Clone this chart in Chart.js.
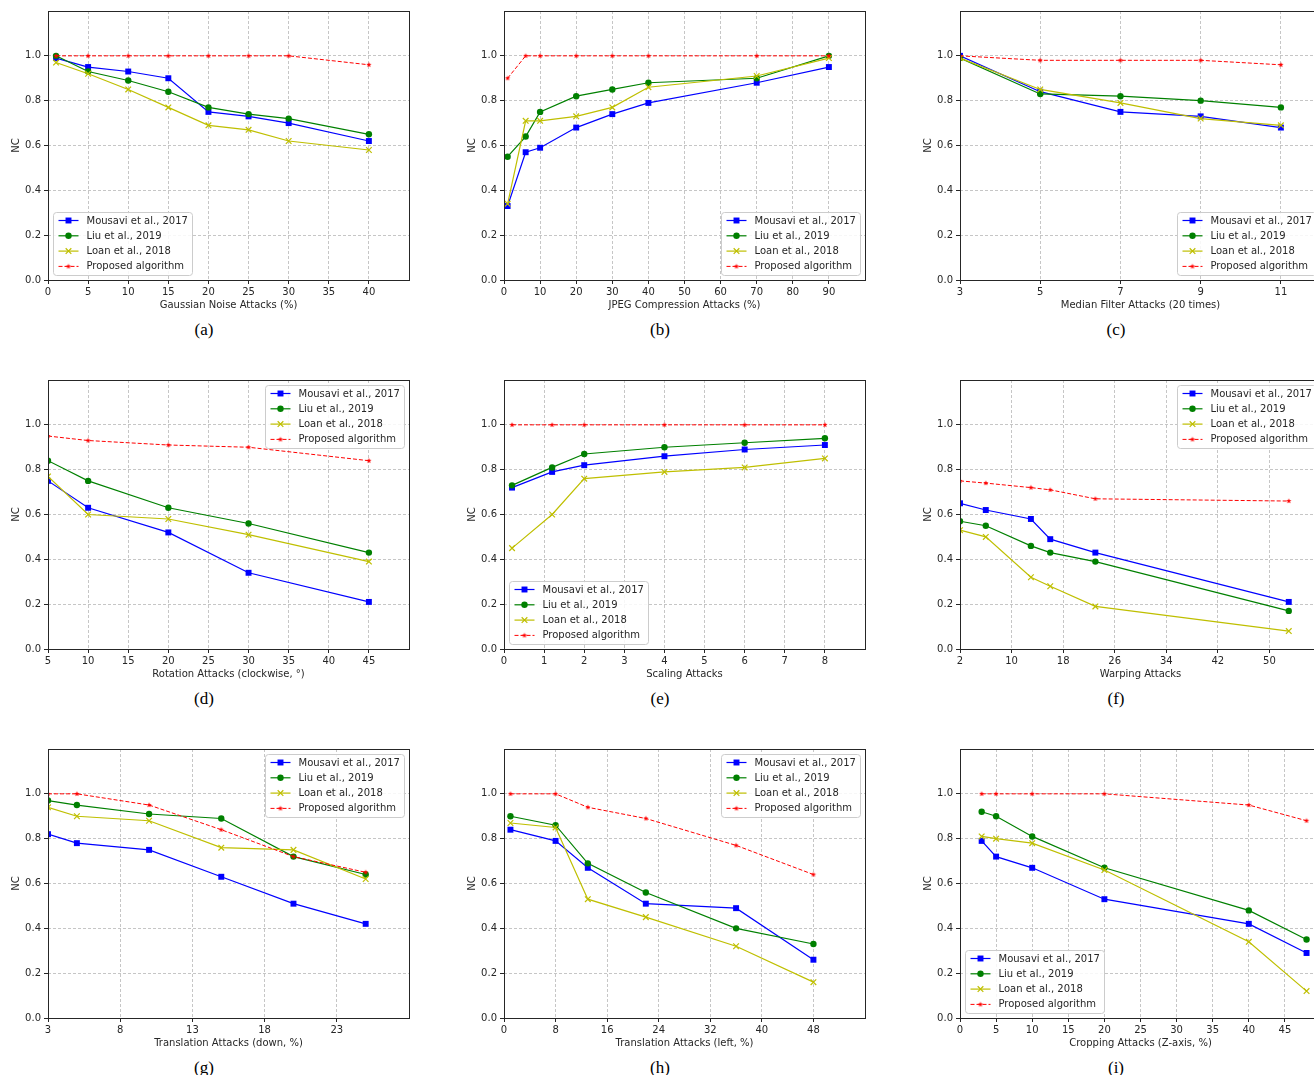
<!DOCTYPE html>
<html><head><meta charset="utf-8">
<script src="https://cdn.jsdelivr.net/npm/chart.js@4.4.0/dist/chart.umd.min.js"></script>
<style>
html,body{margin:0;padding:0;background:#fff;overflow:hidden;width:1314px;height:1075px;}
#wrap{position:relative;width:1314px;height:1075px;overflow:hidden;}
canvas.panel{position:absolute;}
.cap{position:absolute;font-family:'Liberation Serif','Times New Roman',serif;font-size:17px;line-height:20px;transform:translateX(-50%);color:#000;white-space:nowrap;}
</style></head><body><div id="wrap"></div>
<script>
// ---------- data ----------
const seriesNames = ['Mousavi et al., 2017', 'Liu et al., 2019', 'Loan et al., 2018', 'Proposed algorithm'];
const yTicks = [0, 0.2, 0.4, 0.6, 0.8, 1.0];
const yLabel = 'NC';

const aTitle = 'Gaussian Noise Attacks (%)';
const aTicks = [0, 5, 10, 15, 20, 25, 30, 35, 40];
const aX = [1, 5, 10, 15, 20, 25, 30, 40];
const aMousavi = [0.99, 0.95, 0.93, 0.90, 0.75, 0.73, 0.70, 0.62];
const aLiu = [1.00, 0.93, 0.89, 0.84, 0.77, 0.74, 0.72, 0.65];
const aLoan = [0.97, 0.92, 0.85, 0.77, 0.69, 0.67, 0.62, 0.58];
const aProposed = [1.00, 1.00, 1.00, 1.00, 1.00, 1.00, 1.00, 0.96];

const bTitle = 'JPEG Compression Attacks (%)';
const bTicks = [0, 10, 20, 30, 40, 50, 60, 70, 80, 90];
const bX = [1, 6, 10, 20, 30, 40, 70, 90];
const bMousavi = [0.33, 0.57, 0.59, 0.68, 0.74, 0.79, 0.88, 0.95];
const bLiu = [0.55, 0.64, 0.75, 0.82, 0.85, 0.88, 0.90, 1.00];
const bLoan = [0.34, 0.71, 0.71, 0.73, 0.77, 0.86, 0.91, 0.99];
const bProposed = [0.90, 1.00, 1.00, 1.00, 1.00, 1.00, 1.00, 1.00];

const cTitle = 'Median Filter Attacks (20 times)';
const cTicks = [3, 5, 7, 9, 11];
const cX = [3, 5, 7, 9, 11];
const cMousavi = [1.00, 0.84, 0.75, 0.73, 0.68];
const cLiu = [0.99, 0.83, 0.82, 0.80, 0.77];
const cLoan = [0.99, 0.85, 0.79, 0.72, 0.69];
const cProposed = [1.00, 0.98, 0.98, 0.98, 0.96];

const dTitle = 'Rotation Attacks (clockwise, °)';
const dTicks = [5, 10, 15, 20, 25, 30, 35, 40, 45];
const dX = [5, 10, 20, 30, 45];
const dMousavi = [0.75, 0.63, 0.52, 0.34, 0.21];
const dLiu = [0.84, 0.75, 0.63, 0.56, 0.43];
const dLoan = [0.77, 0.60, 0.58, 0.51, 0.39];
const dProposed = [0.95, 0.93, 0.91, 0.90, 0.84];

const eTitle = 'Scaling Attacks';
const eTicks = [0, 1, 2, 3, 4, 5, 6, 7, 8];
const eX = [0.2, 1.2, 2, 4, 6, 8];
const eMousavi = [0.72, 0.79, 0.82, 0.86, 0.89, 0.91];
const eLiu = [0.73, 0.81, 0.87, 0.90, 0.92, 0.94];
const eLoan = [0.45, 0.60, 0.76, 0.79, 0.81, 0.85];
const eProposed = [1.00, 1.00, 1.00, 1.00, 1.00, 1.00];

const fTitle = 'Warping Attacks';
const fTicks = [2, 10, 18, 26, 34, 42, 50];
const fX = [2, 6, 13, 16, 23, 53];
const fMousavi = [0.65, 0.62, 0.58, 0.49, 0.43, 0.21];
const fLiu = [0.57, 0.55, 0.46, 0.43, 0.39, 0.17];
const fLoan = [0.53, 0.50, 0.32, 0.28, 0.19, 0.08];
const fProposed = [0.75, 0.74, 0.72, 0.71, 0.67, 0.66];

const gTitle = 'Translation Attacks (down, %)';
const gTicks = [3, 8, 13, 18, 23];
const gX = [3, 5, 10, 15, 20, 25];
const gMousavi = [0.82, 0.78, 0.75, 0.63, 0.51, 0.42];
const gLiu = [0.97, 0.95, 0.91, 0.89, 0.72, 0.64];
const gLoan = [0.94, 0.90, 0.88, 0.76, 0.75, 0.62];
const gProposed = [1.00, 1.00, 0.95, 0.84, 0.72, 0.65];

const hTitle = 'Translation Attacks (left, %)';
const hTicks = [0, 8, 16, 24, 32, 40, 48];
const hX = [1, 8, 13, 22, 36, 48];
const hMousavi = [0.84, 0.79, 0.67, 0.51, 0.49, 0.26];
const hLiu = [0.90, 0.86, 0.69, 0.56, 0.40, 0.33];
const hLoan = [0.87, 0.85, 0.53, 0.45, 0.32, 0.16];
const hProposed = [1.00, 1.00, 0.94, 0.89, 0.77, 0.64];

const iTitle = 'Cropping Attacks (Z-axis, %)';
const iTicks = [0, 5, 10, 15, 20, 25, 30, 35, 40, 45];
const iX = [3, 5, 10, 20, 40, 48];
const iMousavi = [0.79, 0.72, 0.67, 0.53, 0.42, 0.29];
const iLiu = [0.92, 0.90, 0.81, 0.67, 0.48, 0.35];
const iLoan = [0.81, 0.80, 0.78, 0.66, 0.34, 0.12];
const iProposed = [1.00, 1.00, 1.00, 1.00, 0.95, 0.88];

// ---------- panels (layout only) ----------
const panels = [
  {id:'a', title:aTitle, ticks:aTicks, min:0, max:45, x:aX, ys:[aMousavi,aLiu,aLoan,aProposed], loc:'lower left'},
  {id:'b', title:bTitle, ticks:bTicks, min:0, max:100, x:bX, ys:[bMousavi,bLiu,bLoan,bProposed], loc:'lower right'},
  {id:'c', title:cTitle, ticks:cTicks, min:3, max:12, x:cX, ys:[cMousavi,cLiu,cLoan,cProposed], loc:'lower right'},
  {id:'d', title:dTitle, ticks:dTicks, min:5, max:50, x:dX, ys:[dMousavi,dLiu,dLoan,dProposed], loc:'upper right'},
  {id:'e', title:eTitle, ticks:eTicks, min:0, max:9, x:eX, ys:[eMousavi,eLiu,eLoan,eProposed], loc:'lower left'},
  {id:'f', title:fTitle, ticks:fTicks, min:2, max:58, x:fX, ys:[fMousavi,fLiu,fLoan,fProposed], loc:'upper right'},
  {id:'g', title:gTitle, ticks:gTicks, min:3, max:28, x:gX, ys:[gMousavi,gLiu,gLoan,gProposed], loc:'upper right'},
  {id:'h', title:hTitle, ticks:hTicks, min:0, max:56, x:hX, ys:[hMousavi,hLiu,hLoan,hProposed], loc:'upper right'},
  {id:'i', title:iTitle, ticks:iTicks, min:0, max:50, x:iX, ys:[iMousavi,iLiu,iLoan,iProposed], loc:'lower left'}
];

function makeStar(color, R, r) {
  const c = document.createElement('canvas');
  c.width = 8; c.height = 8;
  const g = c.getContext('2d');
  g.fillStyle = color; g.beginPath();
  for (let k = 0; k < 10; k++) {
    const ang = -Math.PI / 2 + k * Math.PI / 5;
    const rad = k % 2 === 0 ? R : r;
    g.lineTo(4 + rad * Math.cos(ang), 4 + rad * Math.sin(ang));
  }
  g.closePath(); g.fill();
  return c;
}
const starImg = makeStar('#ff0000', 2.8, 1.2);

const styles = [
  {color:'#0000ff', pointStyle:'rect', radius:4.2, bw:1.2, pbw:0, dash:[], order:3},
  {color:'#008000', pointStyle:'circle', radius:3.2, bw:1.2, pbw:0, dash:[], order:2},
  {color:'#bfbf00', pointStyle:'crossRot', radius:4, bw:1.2, pbw:1.2, dash:[], order:1},
  {color:'#ff0000', pointStyle:starImg, radius:3, bw:1, pbw:0, dash:[4,2], order:0}
];

function drawMarker(ctx, st, x, y) {
  ctx.save();
  ctx.fillStyle = st.color; ctx.strokeStyle = st.color; ctx.lineWidth = st.pbw || 1.2;
  if (st.pointStyle === 'rect') {
    const s = Math.SQRT1_2 * st.radius;
    ctx.fillRect(x - s, y - s, 2 * s, 2 * s);
  } else if (st.pointStyle === 'circle') {
    ctx.beginPath(); ctx.arc(x, y, st.radius, 0, Math.PI * 2); ctx.fill();
  } else if (st.pointStyle === 'crossRot') {
    const s = Math.SQRT1_2 * st.radius;
    ctx.beginPath();
    ctx.moveTo(x - s, y - s); ctx.lineTo(x + s, y + s);
    ctx.moveTo(x - s, y + s); ctx.lineTo(x + s, y - s);
    ctx.stroke();
  } else {
    ctx.drawImage(st.pointStyle, x - 4, y - 4);
  }
  ctx.restore();
}

const mplPlugin = {
  id: 'mpl',
  afterDatasetsDraw(chart) {
    const ctx = chart.ctx, a = chart.chartArea;
    ctx.save();
    ctx.strokeStyle = '#262626'; ctx.lineWidth = 1; ctx.setLineDash([]);
    const l = Math.round(a.left) + 0.5, t = Math.round(a.top) + 0.5;
    ctx.strokeRect(l, t, Math.round(a.right) - Math.round(a.left), Math.round(a.bottom) - Math.round(a.top));
    ctx.restore();
  },
  afterDraw(chart) {
    const loc = chart.options.plugins.mpl.loc;
    const ctx = chart.ctx, a = chart.chartArea;
    ctx.save();
    ctx.font = '10px "DejaVu Sans"';
    const tw = Math.max(...seriesNames.map(n => ctx.measureText(n).width));
    const w = Math.round(5 + 20 + 8 + tw + 5), h = 63;
    const inset = 5;
    let x = loc.includes('left') ? a.left + inset : a.right - inset - w;
    let y = loc.includes('upper') ? a.top + inset : a.bottom - inset - h;
    x = Math.round(x) + 0.5; y = Math.round(y) + 0.5;
    ctx.beginPath();
    if (ctx.roundRect) ctx.roundRect(x, y, w, h, 3); else ctx.rect(x, y, w, h);
    ctx.fillStyle = 'rgba(255,255,255,0.85)'; ctx.fill();
    ctx.strokeStyle = '#cccccc'; ctx.lineWidth = 1; ctx.stroke();
    seriesNames.forEach((name, i) => {
      const st = styles[i];
      const ry = y + 8 + i * 15.3;
      ctx.save();
      ctx.strokeStyle = st.color; ctx.lineWidth = st.bw; ctx.setLineDash(st.dash);
      ctx.beginPath(); ctx.moveTo(x + 5, ry); ctx.lineTo(x + 25, ry); ctx.stroke();
      ctx.restore();
      drawMarker(ctx, st, x + 15, ry);
      ctx.fillStyle = '#262626'; ctx.textBaseline = 'middle'; ctx.textAlign = 'left';
      ctx.fillText(name, x + 33, ry + 0.5);
    });
    ctx.restore();
  }
};

Chart.defaults.font.family = '"DejaVu Sans", sans-serif';
Chart.defaults.font.size = 10;
Chart.defaults.color = '#262626';

const wrap = document.getElementById('wrap');
const W = 456, H = 320, COLW = 456, ROWH = 369;

panels.forEach((p, k) => {
  const col = k % 3, row = Math.floor(k / 3);
  const cv = document.createElement('canvas');
  cv.className = 'panel';
  cv.width = W; cv.height = H;
  cv.style.left = (col * COLW) + 'px';
  cv.style.top = (row * ROWH) + 'px';
  cv.style.width = W + 'px'; cv.style.height = H + 'px';
  wrap.appendChild(cv);

  const cap = document.createElement('div');
  cap.className = 'cap';
  cap.textContent = '(' + p.id + ')';
  cap.style.left = (col * COLW + 204) + 'px';
  cap.style.top = (row * ROWH + 320) + 'px';
  wrap.appendChild(cap);

  const datasets = p.ys.map((ys, i) => {
    const st = styles[i];
    return {
      label: seriesNames[i],
      data: p.x.map((xv, j) => ({x: xv, y: ys[j]})),
      borderColor: st.color,
      backgroundColor: st.color,
      pointBackgroundColor: st.color,
      pointBorderColor: st.color,
      pointStyle: st.pointStyle,
      pointRadius: st.radius,
      pointHoverRadius: st.radius,
      pointBorderWidth: st.pbw,
      borderWidth: st.bw,
      borderDash: st.dash,
      tension: 0,
      fill: false,
      order: st.order
    };
  });

  const gridCommon = {
    color: '#b8b8b8', lineWidth: 0.8, drawTicks: true, tickLength: 4,
    tickColor: '#262626', tickWidth: 1, tickBorderDash: []
  };

  new Chart(cv, {
    type: 'line',
    data: {datasets},
    plugins: [mplPlugin],
    options: {
      responsive: false, animation: false, devicePixelRatio: 1,
      layout: {padding: {left: 0, top: 11, right: 47, bottom: 0}},
      plugins: {legend: {display: false}, tooltip: {enabled: false}, mpl: {loc: p.loc}},
      events: [],
      scales: {
        x: {
          type: 'linear', min: p.min, max: p.max,
          afterBuildTicks: s => { s.ticks = p.ticks.map(v => ({value: v})); },
          afterFit: s => { s.height = 40; },
          grid: gridCommon,
          border: {display: false, dash: [3, 2]},
          ticks: {padding: 2, maxRotation: 0, autoSkip: false, callback: v => String(v), color: '#262626'},
          title: {display: true, text: p.title, color: '#262626', font: {size: 10}, padding: {top: 0, bottom: 9}}
        },
        y: {
          type: 'linear', min: 0, max: 1.2,
          afterBuildTicks: s => { s.ticks = yTicks.map(v => ({value: v})); },
          afterFit: s => { s.width = 48; },
          grid: gridCommon,
          border: {display: false, dash: [3, 2]},
          ticks: {padding: 3, autoSkip: false, callback: v => Number(v).toFixed(1), color: '#262626'},
          title: {display: true, text: yLabel, color: '#262626', font: {size: 10}, padding: {top: 10, bottom: 0}}
        }
      }
    }
  });
});
</script>
</body></html>
